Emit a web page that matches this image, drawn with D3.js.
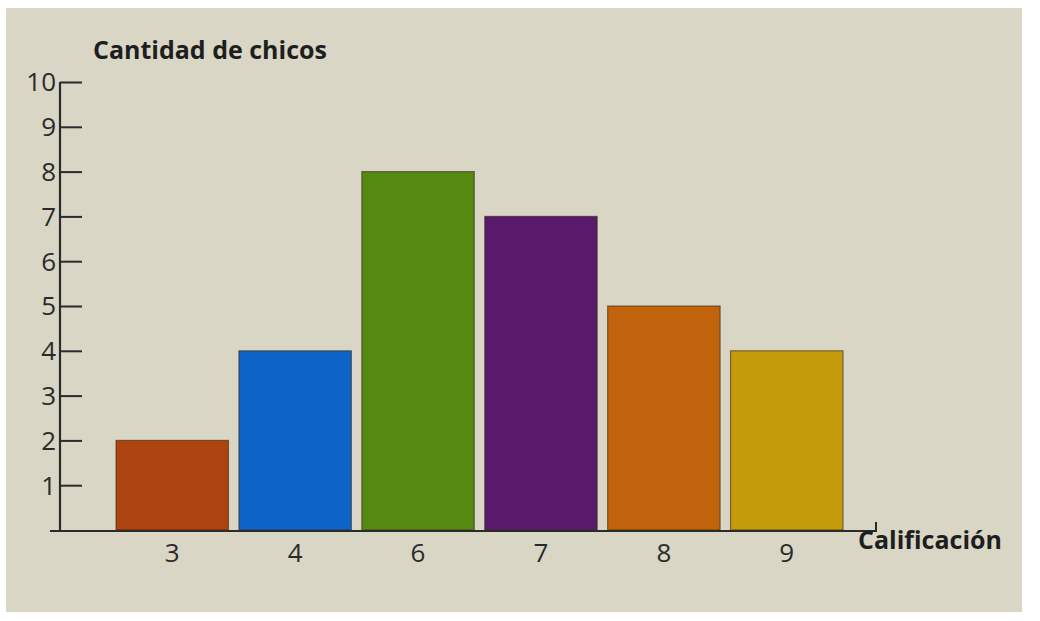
<!DOCTYPE html>
<html><head><meta charset="utf-8">
<script src="https://cdn.jsdelivr.net/npm/d3@7"></script>
<style>body{margin:0;background:#fff}svg{display:block}</style>
</head><body>
<script>
const categories = ["3","4","6","7","8","9"];
const values = [2,4,8,7,5,4];
const colors = ["#ad430f","#0d63c8","#558912","#5a1a6c","#c2640d","#c49b0a"];
const yTicks = [1,2,3,4,5,6,7,8,9,10];
const yTitle = "Cantidad de chicos";
const xTitle = "Calificación";

(function(){
const W = 1040, H = 621;
const svg = d3.select("body").append("svg").attr("width", W).attr("height", H);
svg.append("rect").attr("x",6).attr("y",8).attr("width",1016).attr("height",604).attr("fill","#d9d6c5");

const x0 = 60, base = 530, yTop = 82;
const x = d3.scaleBand().domain(categories).range([116, 843]).paddingInner(0.085).paddingOuter(0);
const y = d3.scaleLinear().domain([0,10]).range([base, yTop]);

const font = "'Open Sans','Noto Sans',sans-serif";
const ink = "#2b2b2b";

svg.selectAll("rect.bar").data(values).join("rect").attr("class","bar")
  .attr("x",(d,i)=>x(categories[i])).attr("width",x.bandwidth())
  .attr("y",d=>y(d)).attr("height",d=>base-y(d))
  .attr("fill",(d,i)=>colors[i]).attr("stroke","#3a2a10").attr("stroke-width",1.2).attr("stroke-opacity",0.6);

const yAxis = d3.axisRight(y).tickValues(yTicks).tickSize(22).tickFormat("");
const gy = svg.append("g").attr("transform",`translate(${x0},0)`).call(yAxis);
gy.select(".domain").remove();
gy.selectAll(".tick line").attr("stroke",ink).attr("stroke-width",2);
svg.append("line").attr("x1",x0).attr("x2",x0).attr("y1",yTop).attr("y2",base+1).attr("stroke",ink).attr("stroke-width",2.2);
svg.selectAll("text.yl").data(yTicks).join("text").attr("class","yl")
  .attr("x",x0-4).attr("y",d=>y(d)).attr("dy","0.36em").attr("text-anchor","end")
  .attr("font-family",font).attr("font-size",26).attr("fill",ink).text(d=>d);

svg.append("path").attr("d",`M${x0-10},${base+1}H876V${base-8}`).attr("fill","none").attr("stroke",ink).attr("stroke-width",2);
svg.selectAll("text.xl").data(categories).join("text").attr("class","xl")
  .attr("x",d=>x(d)+x.bandwidth()/2).attr("y",base+32).attr("text-anchor","middle")
  .attr("font-family",font).attr("font-size",26).attr("fill",ink).text(d=>d);

svg.append("text").attr("x",93).attr("y",59).attr("font-family",font).attr("font-weight","bold")
  .attr("font-size",25).attr("fill","#1e1e1e").text(yTitle);
svg.append("text").attr("x",858).attr("y",549).attr("font-family",font).attr("font-weight","bold")
  .attr("font-size",25).attr("fill","#1e1e1e").text(xTitle);
})();
</script>
</body></html>
